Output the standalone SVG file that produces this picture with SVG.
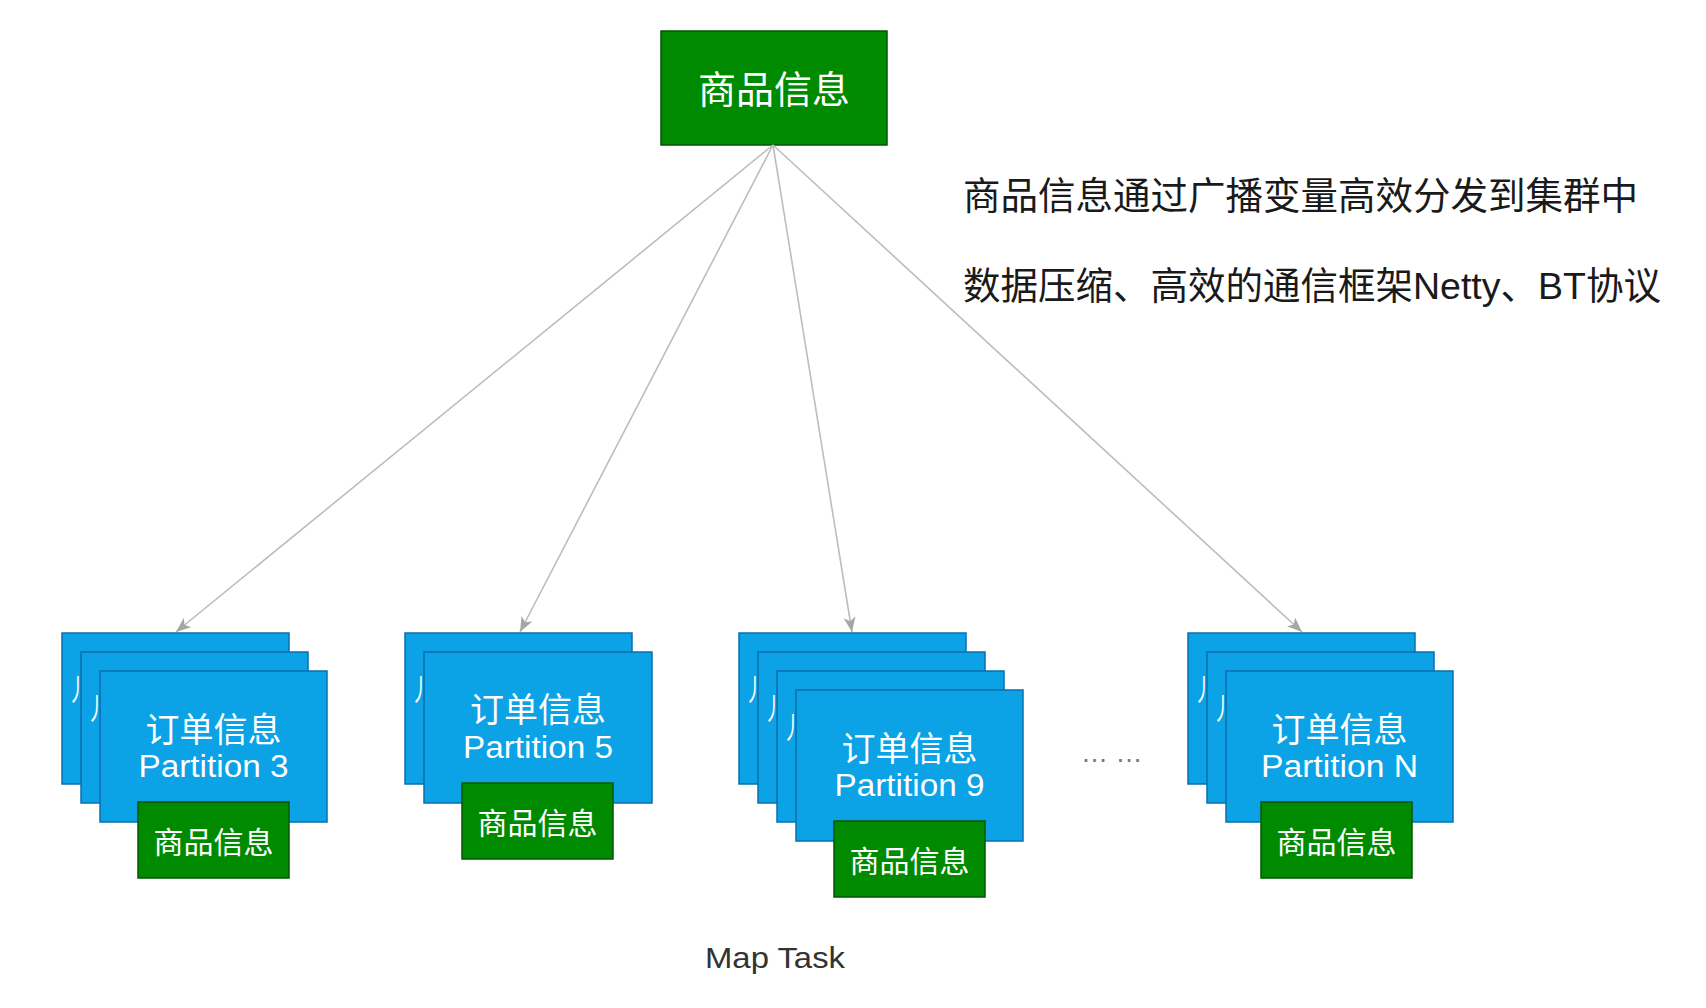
<svg xmlns="http://www.w3.org/2000/svg" width="1706" height="1008" viewBox="0 0 1706 1008">
<style>
.bg{fill:#ffffff}
.blue{fill:#0ba2e6;stroke:#0a6fb0;stroke-width:1.5}
.green{fill:#008a00;stroke:#005700;stroke-width:1.5}
.cjk{font-family:"Liberation Sans","Noto Sans CJK SC",sans-serif;fill:#ffffff;text-anchor:middle}
.lat{font-family:"Liberation Sans","Noto Sans CJK SC",sans-serif;fill:#ffffff;text-anchor:middle}
.hid{font-family:"Noto Sans CJK SC",sans-serif;fill:#ffffff;font-size:18px}
.note{font-family:"Liberation Sans","Noto Sans CJK SC",sans-serif;fill:#1a1a1a;font-size:37.5px}
.edge{fill:none;stroke:#bdbdbd;stroke-width:1.6}
</style>
<defs>
<marker id="arr" markerUnits="userSpaceOnUse" markerWidth="16" markerHeight="13" refX="15" refY="6" orient="auto">
<path d="M0,0 L15,6 L0,12 L4,6 Z" fill="#a6a6a6"/>
</marker>
</defs>
<rect class="bg" x="0" y="0" width="1706" height="1008"/>

<g id="source">
<rect class="green" x="661" y="31" width="226" height="114"/>
<text class="cjk" x="774" y="103" font-size="38">商品信息</text>
</g>

<g id="connectors">
<path class="edge" d="M773,145 L176,632" marker-end="url(#arr)"/>
<path class="edge" d="M773,145 L520,632" marker-end="url(#arr)"/>
<path class="edge" d="M773,145 L852,632" marker-end="url(#arr)"/>
<path class="edge" d="M773,145 L1302,632" marker-end="url(#arr)"/>
</g>

<g id="partition3">
<rect class="blue" x="62" y="633" width="227" height="151"/>
<text class="hid" transform="translate(68,701) scale(1,1.7)">丿</text>
<rect class="blue" x="81" y="652" width="227" height="151"/>
<text class="hid" transform="translate(87,720) scale(1,1.7)">丿</text>
<rect class="blue" x="100" y="671" width="227" height="151"/>
<text class="cjk" x="213.5" y="742" font-size="34">订单信息</text>
<text class="lat" x="213.5" y="777" font-size="31" textLength="150" lengthAdjust="spacingAndGlyphs">Partition 3</text>
<rect class="green" x="138" y="802" width="151" height="76"/>
<text class="cjk" x="213.5" y="853" font-size="30">商品信息</text>
</g>

<g id="partition5">
<rect class="blue" x="405" y="633" width="227" height="151"/>
<text class="hid" transform="translate(411,701) scale(1,1.7)">丿</text>
<rect class="blue" x="424" y="652" width="228" height="151"/>
<text class="cjk" x="538" y="722" font-size="34">订单信息</text>
<text class="lat" x="538" y="758" font-size="31" textLength="150" lengthAdjust="spacingAndGlyphs">Partition 5</text>
<rect class="green" x="462" y="783" width="151" height="76"/>
<text class="cjk" x="537.5" y="834" font-size="30">商品信息</text>
</g>

<g id="partition9">
<rect class="blue" x="739" y="633" width="227" height="151"/>
<text class="hid" transform="translate(745,701) scale(1,1.7)">丿</text>
<rect class="blue" x="758" y="652" width="227" height="151"/>
<text class="hid" transform="translate(764,720) scale(1,1.7)">丿</text>
<rect class="blue" x="777" y="671" width="227" height="151"/>
<text class="hid" transform="translate(783,739) scale(1,1.7)">丿</text>
<rect class="blue" x="796" y="690" width="227" height="151"/>
<text class="cjk" x="909.5" y="761" font-size="34">订单信息</text>
<text class="lat" x="909.5" y="796" font-size="31" textLength="150" lengthAdjust="spacingAndGlyphs">Partition 9</text>
<rect class="green" x="834" y="821" width="151" height="76"/>
<text class="cjk" x="909.5" y="872" font-size="30">商品信息</text>
</g>

<g id="ellipsis">
<text x="1081" y="762" font-family="Liberation Sans, sans-serif" font-size="27" fill="#777777">… …</text>
</g>

<g id="partitionN">
<rect class="blue" x="1188" y="633" width="227" height="151"/>
<text class="hid" transform="translate(1194,701) scale(1,1.7)">丿</text>
<rect class="blue" x="1207" y="652" width="227" height="151"/>
<text class="hid" transform="translate(1213,720) scale(1,1.7)">丿</text>
<rect class="blue" x="1226" y="671" width="227" height="151"/>
<text class="cjk" x="1339.5" y="742" font-size="34">订单信息</text>
<text class="lat" x="1339.5" y="777" font-size="31" textLength="157" lengthAdjust="spacingAndGlyphs">Partition N</text>
<rect class="green" x="1261" y="802" width="151" height="76"/>
<text class="cjk" x="1336.5" y="853" font-size="30">商品信息</text>
</g>

<g id="notes">
<text class="note" x="963" y="209">商品信息通过广播变量高效分发到集群中</text>
<text class="note" x="963" y="299">数据压缩、高效的通信框架Netty、BT协议</text>
</g>

<g id="label">
<text x="775" y="968" font-family="Liberation Sans, sans-serif" font-size="29" fill="#333333" text-anchor="middle" textLength="140" lengthAdjust="spacingAndGlyphs">Map Task</text>
</g>
</svg>
